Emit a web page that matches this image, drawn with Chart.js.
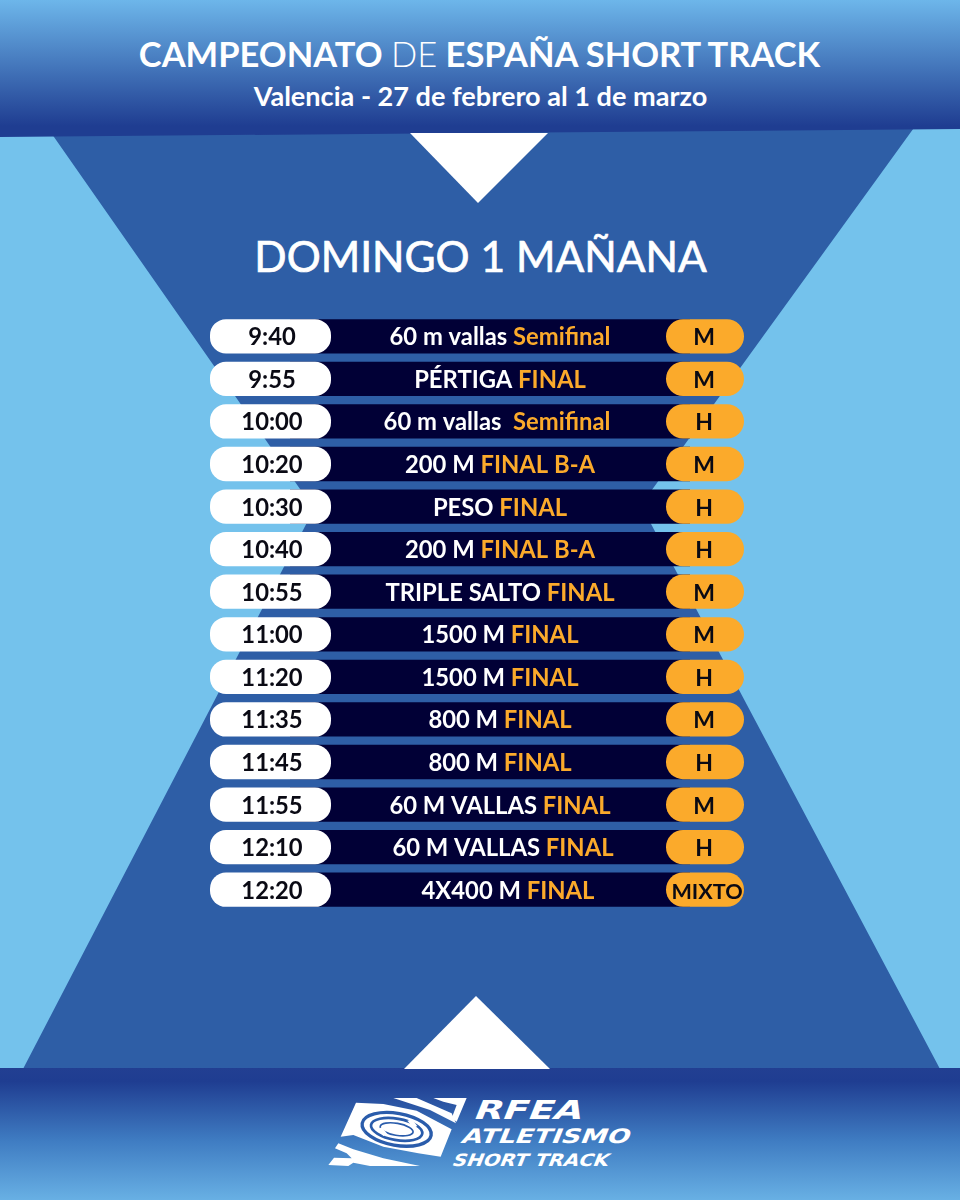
<!DOCTYPE html>
<html>
<head>
<meta charset="utf-8">
<title>Campeonato de España Short Track</title>
<script src="https://cdn.jsdelivr.net/npm/chart.js@4/dist/chart.umd.min.js"></script>
<style>
    html, body { margin: 0; padding: 0; }
    body { width: 960px; height: 1200px; position: relative; overflow: hidden; background: #74c2ec; }
    #bg { position: absolute; left: 0; top: 0; }
    #schedule { position: absolute; left: 210px; top: 315px; }
    text { font-family: Lato, sans-serif; fill: #fff; }
    .logoText { font-family: "DejaVu Sans", sans-serif; }
</style>
</head>
<body>
<svg id="bg" width="960" height="1200" viewBox="0 0 960 1200">
    <defs>
        <linearGradient id="topBand" x1="0" y1="0" x2="0" y2="1">
            <stop offset="0" stop-color="#6db6ea"/>
            <stop offset="0.92" stop-color="#1f3d91"/>
            <stop offset="1" stop-color="#1f3d91"/>
        </linearGradient>
        <linearGradient id="bottomBand" x1="0" y1="0" x2="0" y2="1">
            <stop offset="0" stop-color="#223f92"/>
            <stop offset="0.1" stop-color="#1f3d91"/>
            <stop offset="0.55" stop-color="#3f7cc2"/>
            <stop offset="1" stop-color="#68b0e4"/>
        </linearGradient>
    </defs>
    <polygon points="47,127 916,125 641,505 940,1069 23,1069 314,509" fill="#2e5ea6"/>
    <polygon points="0,0 960,0 960,129 0,137" fill="url(#topBand)"/>
    <rect x="0" y="1068" width="960" height="132" fill="url(#bottomBand)"/>
    <polygon points="410,133 548,133 478,203" fill="#fff"/>
    <polygon points="404,1069 550,1069 476,996" fill="#fff"/>

    <text x="479.5" y="67" text-anchor="middle" font-size="34.5" font-weight="700">CAMPEONATO <tspan font-weight="300">DE</tspan> ESPAÑA SHORT TRACK</text>
    <text x="480.5" y="106" text-anchor="middle" font-size="27.1" font-weight="700">Valencia - 27 de febrero al 1 de marzo</text>
    <text x="480.5" y="272" text-anchor="middle" font-size="42.5" font-weight="400" stroke="#fff" stroke-width="0.7">DOMINGO 1 MAÑANA</text>

    <!-- logo -->
    <g transform="translate(320,1090) scale(0.3333)" fill="#fff">
        <polygon points="108,38 190,42 290,62 395,118 362,200 295,190 190,170 100,135 62,140"/>
        <g fill="none" stroke="#2a5cab">
            <ellipse cx="230" cy="118" rx="105" ry="48" stroke-width="10" transform="rotate(10 230 118)"/>
            <ellipse cx="230" cy="118" rx="78" ry="32" stroke-width="8" transform="rotate(10 230 118)"/>
            <ellipse cx="230" cy="118" rx="50" ry="18" stroke-width="5" transform="rotate(10 230 118)"/>
        </g>
        <polygon points="172,118 186,112 202,132 190,138"/>
        <polygon points="262,92 276,88 292,108 280,114"/>
        <polygon points="25,225 42,203 95,205 80,190 45,175 55,160 100,178 190,205 300,228 150,228 100,218 85,228"/>
        <polygon points="220,24 290,24 395,70 408,100 330,60"/>
        <polygon points="340,24 440,24 410,95 395,85 410,45 370,35"/>
    </g>
    <text class="logoText" transform="translate(472,1119) skewX(-22)" font-size="26" font-weight="700" textLength="108" lengthAdjust="spacingAndGlyphs">RFEA</text>
    <text class="logoText" transform="translate(460,1143) skewX(-22)" font-size="20" font-weight="700" textLength="168" lengthAdjust="spacingAndGlyphs">ATLETISMO</text>
    <text class="logoText" transform="translate(451,1166) skewX(-22)" font-size="17" font-weight="700" textLength="156" lengthAdjust="spacingAndGlyphs">SHORT TRACK</text>
</svg>

<canvas id="schedule" width="534" height="596"></canvas>

<script>
const times = ["9:40", "9:55", "10:00", "10:20", "10:30", "10:40", "10:55", "11:00", "11:20", "11:35", "11:45", "11:55", "12:10", "12:20"];
const events = ["60 m vallas", "PÉRTIGA", "60 m vallas ", "200 M", "PESO", "200 M", "TRIPLE SALTO", "1500 M", "1500 M", "800 M", "800 M", "60 M VALLAS", "60 M VALLAS", "4X400 M"];
const rounds = ["Semifinal", "FINAL", "Semifinal", "FINAL B-A", "FINAL", "FINAL B-A", "FINAL", "FINAL", "FINAL", "FINAL", "FINAL", "FINAL", "FINAL", "FINAL"];
const groups = ["M", "M", "H", "M", "H", "H", "M", "M", "H", "M", "H", "M", "H", "MIXTO"];

// column spans on the x axis of the table
const timeCol = [0, 121];
const eventCol = [80, 480];
const groupCol = [456, 534];

// a few rows sit a little off centre in the original
const nudge = { 2: -3, 12: 3, 13: 8 };

const rowLabels = {
    id: "rowLabels",
    afterDatasetsDraw(chart) {
        const { ctx, scales: { x, y } } = chart;
        const midTime = x.getPixelForValue(62);
        const midEvent = x.getPixelForValue(290);
        const midGroup = x.getPixelForValue(494);
        ctx.save();
        ctx.textBaseline = "alphabetic";
        times.forEach((t, i) => {
            const base = y.getPixelForValue(i) + 9;

            ctx.font = "700 23.8px Lato";
            ctx.textAlign = "center";
            ctx.fillStyle = "#0a0a14";
            ctx.fillText(t, midTime, base);

            // event in white, round in orange, centred as one line
            const first = events[i] + " ";
            const w1 = ctx.measureText(first).width;
            const w2 = ctx.measureText(rounds[i]).width;
            let left = midEvent + (nudge[i] || 0) - (w1 + w2) / 2;
            ctx.textAlign = "left";
            ctx.fillStyle = "#ffffff";
            ctx.fillText(first, left, base);
            ctx.fillStyle = "#fbaa2b";
            ctx.fillText(rounds[i], left + w1, base);

            ctx.textAlign = "center";
            ctx.fillStyle = "#0a0a14";
            const isMixed = groups[i] === "MIXTO";
            ctx.font = isMixed ? "700 21.6px Lato" : "700 23px Lato";
            ctx.fillText(groups[i], midGroup + (isMixed ? 3 : 0), base);
        });
        ctx.restore();
    }
};

new Chart(document.getElementById("schedule"), {
    type: "bar",
    data: {
        labels: times,
        datasets: [
            { label: "Hora", data: times.map(() => timeCol), backgroundColor: "#ffffff", borderRadius: 16, borderSkipped: false, order: 1 },
            { label: "Grupo", data: times.map(() => groupCol), backgroundColor: "#fbaa2b", borderRadius: 17, borderSkipped: false, order: 1 },
            { label: "Prueba", data: times.map(() => eventCol), backgroundColor: "#010036", borderSkipped: false, order: 2 }
        ]
    },
    options: {
        responsive: false,
        animation: false,
        indexAxis: "y",
        layout: { padding: 0 },
        datasets: { bar: { grouped: false, barPercentage: 0.805, categoryPercentage: 1 } },
        plugins: { legend: { display: false }, tooltip: { enabled: false } },
        scales: {
            x: { display: false, min: 0, max: 534 },
            y: { display: false }
        }
    },
    plugins: [rowLabels]
});
</script>
</body>
</html>
